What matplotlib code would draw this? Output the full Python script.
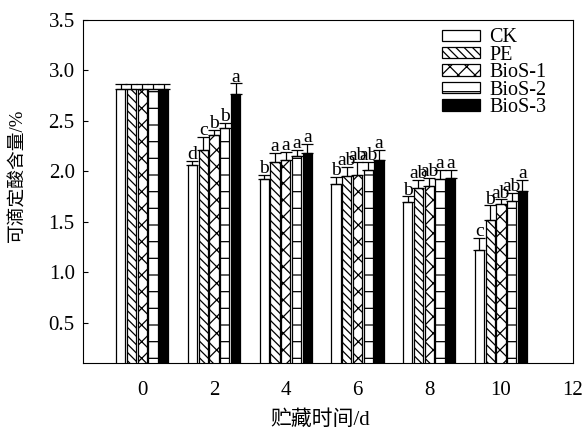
import numpy as np
import matplotlib.pyplot as plt
from matplotlib.patches import Patch

plt.rcParams['font.family'] = ['Liberation Serif', 'Noto Sans CJK SC']
plt.rcParams['hatch.linewidth'] = 0.9

# data
days = [0, 2, 4, 6, 8, 10]
names = ['CK', 'PE', 'BioS-1', 'BioS-2', 'BioS-3']
ck = [2.81, 2.06, 1.92, 1.87, 1.69, 1.22]
pe = [2.81, 2.21, 2.09, 1.95, 1.83, 1.52]
bios1 = [2.81, 2.36, 2.11, 1.96, 1.85, 1.67]
bios2 = [2.81, 2.43, 2.15, 2.01, 1.92, 1.70]
bios3 = [2.81, 2.77, 2.18, 2.11, 1.93, 1.80]
err_ck = [0.05, 0.04, 0.04, 0.07, 0.06, 0.12]
err_pe = [0.05, 0.13, 0.09, 0.09, 0.08, 0.14]
err_b1 = [0.05, 0.05, 0.08, 0.13, 0.08, 0.05]
err_b2 = [0.05, 0.05, 0.06, 0.08, 0.09, 0.08]
err_b3 = [0.05, 0.10, 0.09, 0.10, 0.08, 0.11]
let_ck = ['', 'd', 'b', 'b', 'b', 'c']
let_pe = ['', 'c', 'a', 'ab', 'ab', 'b']
let_b1 = ['', 'b', 'a', 'ab', 'ab', 'ab']
let_b2 = ['', 'b', 'a', 'ab', 'a', 'ab']
let_b3 = ['', 'a', 'a', 'a', 'a', 'a']

vals = [ck, pe, bios1, bios2, bios3]
errs = [err_ck, err_pe, err_b1, err_b2, err_b3]
lets = [let_ck, let_pe, let_b1, let_b2, let_b3]
hatches = ['', '\\\\\\\\', 'xx', '-', '']
faces = ['white', 'white', 'white', 'white', 'black']

fig = plt.figure(figsize=(5.85, 4.32), dpi=100)
ax = fig.add_axes([0.142, 0.160, 0.837, 0.794])

step = 0.3
w = 0.26
x = np.array(days, dtype=float)
handles = []
for i in range(5):
    xi = x + (i - 2) * step
    ax.bar(xi, vals[i], width=w, color=faces[i], edgecolor='black',
           linewidth=0.9, hatch=hatches[i], zorder=2)
    ax.errorbar(xi, vals[i], yerr=[np.zeros(6), errs[i]], fmt='none',
                ecolor='black', elinewidth=0.9, capsize=4, capthick=0.9, zorder=3)
    for j in range(6):
        if lets[i][j]:
            ax.annotate(lets[i][j], (xi[j], vals[i][j] + errs[i][j]),
                        xytext=(0, -1.5), textcoords='offset points',
                        ha='center', va='bottom', fontsize=14)
    handles.append(Patch(facecolor=faces[i], edgecolor='black',
                         hatch=hatches[i], linewidth=0.9, label=names[i]))

ax.set_xlim(-1.65, 12)
ax.set_ylim(0.1, 3.5)
ax.set_xticks([0, 2, 4, 6, 8, 10, 12])
ax.set_yticks([0.5, 1.0, 1.5, 2.0, 2.5, 3.0, 3.5])
ax.tick_params(axis='both', direction='in', labelsize=15)
ax.tick_params(axis='x', length=0, pad=13)
ax.tick_params(axis='y', pad=6)
ax.set_xlabel('贮藏时间/d', fontsize=15)
ax.set_ylabel('可滴定酸含量/%', fontsize=13.5)
ax.xaxis.set_label_coords(0.484, -0.137)
ax.yaxis.set_label_coords(-0.115, 0.548)

ax.legend(handles=handles, loc='upper left', bbox_to_anchor=(0.733, 0.975),
          frameon=False, fontsize=14.5, handlelength=1.9, handleheight=0.5,
          labelspacing=-0.08, handletextpad=0.45, borderpad=0, borderaxespad=0)

fig.savefig('out.png', dpi=100)
